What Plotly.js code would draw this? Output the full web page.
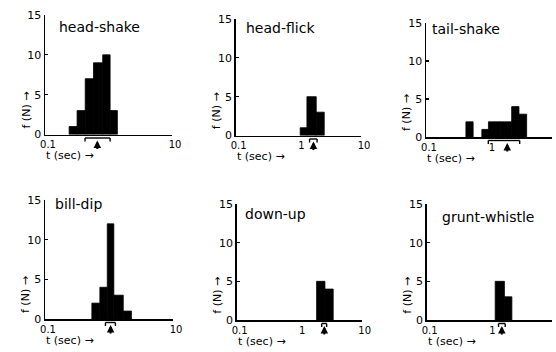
<!DOCTYPE html>
<html><head><meta charset="utf-8">
<script src="https://cdn.plot.ly/plotly-3.0.1.min.js"></script>
<style>html,body{margin:0;padding:0;background:#fff}#chart{width:556px;height:352px}</style>
</head><body><div id="chart"></div>
<script>
// ---- data (bin edges in seconds, counts) ----
const panelNames = ["head-shake", "head-flick", "tail-shake", "bill-dip", "down-up", "grunt-whistle"];

const headShakeLo = [0.24, 0.32, 0.43, 0.58, 0.81, 1.06];
const headShakeHi = [0.32, 0.43, 0.58, 0.81, 1.06, 1.38];
const headShakeN  = [1, 3, 7, 9, 10, 3];

const headFlickLo = [1.07, 1.37, 1.93];
const headFlickHi = [1.37, 1.93, 2.59];
const headFlickN  = [1, 5, 3];

const tailShakeLo = [0.43, 0.77, 0.98, 1.50, 2.29, 2.99];
const tailShakeHi = [0.56, 0.98, 1.50, 2.29, 2.99, 3.96];
const tailShakeN  = [2, 1, 2, 2, 4, 3];

const billDipLo = [0.54, 0.72, 0.94, 1.19, 1.67];
const billDipHi = [0.72, 0.94, 1.19, 1.67, 2.24];
const billDipN  = [2, 4, 12, 3, 1];

const downUpLo = [1.90, 2.58];
const downUpHi = [2.58, 3.50];
const downUpN  = [5, 4];

const gruntWhistleLo = [1.24, 1.74];
const gruntWhistleHi = [1.74, 2.29];
const gruntWhistleN  = [5, 3];

// mean duration (arrow) and spread (bar under axis), seconds
const meanT = [0.667, 1.74, 1.95, 1.06, 2.52, 1.58];
const sdLo  = [0.427, 1.51, 0.975, 0.88, 2.29, 1.40];
const sdHi  = [1.06, 1.99, 3.07, 1.26, 2.75, 1.79];

const xTickVals = [0.1, 1, 10];
const xTickTextNoOne = ["0.1", "", "10"];
const xTickTextFull  = ["0.1", "1", "10"];
const yTickVals = [0, 5, 10, 15];
const xTitleText = "t (sec) →";
const yTitleText = "f (N) →";

// ---- layout geometry (pixels) ----
const W = 556, H = 352;
const geom = [
  {xL: 45,    xR: 172,   y0: 134.5, y15: 15,  tx: 57,  ty: 27},
  {xL: 235.7, xR: 361,   y0: 135.5, y15: 19,  tx: 244, ty: 27.5},
  {xL: 426,   xR: 552,   y0: 137,   y15: 23,  tx: 430, ty: 29},
  {xL: 45,    xR: 173,   y0: 319,   y15: 200, tx: 53,  ty: 204},
  {xL: 236.7, xR: 361.7, y0: 320,   y15: 204, tx: 243, ty: 214},
  {xL: 426.7, xR: 552,   y0: 320,   y15: 204, tx: 440, ty: 217}
];

const panels = [
  [headShakeLo, headShakeHi, headShakeN, xTickTextNoOne],
  [headFlickLo, headFlickHi, headFlickN, xTickTextFull],
  [tailShakeLo, tailShakeHi, tailShakeN, xTickTextFull],
  [billDipLo, billDipHi, billDipN, xTickTextNoOne],
  [downUpLo, downUpHi, downUpN, xTickTextFull],
  [gruntWhistleLo, gruntWhistleHi, gruntWhistleN, xTickTextFull]
];

const FONT = "DejaVu Sans, sans-serif";
const traces = [];
const layout = {
  width: W, height: H,
  margin: {l: 0, r: 0, t: 0, b: 0},
  paper_bgcolor: "#fff", plot_bgcolor: "rgba(0,0,0,0)",
  showlegend: false,
  font: {family: FONT, color: "#000"},
  annotations: [], shapes: []
};
const py = v => (H - v) / H;
const px = v => v / W;

panels.forEach((p, i) => {
  const [lo, hi, n, ticktext] = p;
  const g = geom[i];
  const s = i === 0 ? "" : String(i + 1);
  traces.push({
    type: "bar",
    x: lo.map((l, j) => (l + hi[j]) / 2),
    width: lo.map((l, j) => hi[j] - l),
    y: n,
    xaxis: "x" + s, yaxis: "y" + s,
    marker: {color: "#000", line: {width: 0.8, color: "#000"}},
    hoverinfo: "skip"
  });
  layout["xaxis" + s] = {
    type: "log", range: [-1, 1],
    domain: [px(g.xL), px(g.xR)], anchor: "y" + s,
    showline: true, linecolor: "#000", linewidth: 1.5,
    showgrid: false, zeroline: false,
    tickmode: "array", tickvals: xTickVals, ticktext: ticktext,
    ticks: "", tickfont: {family: FONT, size: 10, color: "#000"},
    ticklabelshift: 3, fixedrange: true
  };
  layout["yaxis" + s] = {
    range: [0, 15],
    domain: [py(g.y0), py(g.y15)], anchor: "x" + s,
    showline: true, linecolor: "#000", linewidth: 1.5,
    showgrid: false, zeroline: false,
    tickmode: "array", tickvals: yTickVals,
    ticks: "inside", ticklen: 3, tickwidth: 1.2, tickcolor: "#000",
    tickfont: {family: FONT, size: 11, color: "#000"},
    fixedrange: true
  };
  // panel title
  layout.annotations.push({
    text: panelNames[i], xref: "paper", yref: "paper",
    x: px(g.tx), y: py(g.ty), xanchor: "left", yanchor: "middle",
    showarrow: false, font: {family: FONT, size: 14, color: "#000"}
  });
  // x title
  layout.annotations.push({
    text: xTitleText, xref: "paper", yref: "paper",
    x: px(g.xL - 1), y: py(g.y0 + 21), xanchor: "left", yanchor: "middle",
    showarrow: false, font: {family: FONT, size: 11, color: "#000"}
  });
  // y title (rotated)
  layout.annotations.push({
    text: yTitleText, xref: "paper", yref: "paper",
    x: px(g.xL - 11), y: py(g.y0 - 4), xanchor: "right", yanchor: "bottom",
    textangle: -90, showarrow: false, font: {family: FONT, size: 11, color: "#000"}
  });
  // mean arrow
  layout.annotations.push({
    text: "", xref: "x" + s, yref: "paper",
    x: Math.log10(meanT[i]), y: py(g.y0 + 6),
    ax: 0, ay: 10, showarrow: true,
    arrowhead: 2, arrowsize: 0.75, arrowwidth: 2, arrowcolor: "#000"
  });
  // spread bar with end ticks
  const yb = py(g.y0 + 3.5), yt = py(g.y0 + 7);
  const ln = {color: "#000", width: 1.4};
  layout.shapes.push({type: "line", xref: "x" + s, yref: "paper", x0: sdLo[i], x1: sdHi[i], y0: yb, y1: yb, line: ln});
  layout.shapes.push({type: "line", xref: "x" + s, yref: "paper", x0: sdLo[i], x1: sdLo[i], y0: yb, y1: yt, line: ln});
  layout.shapes.push({type: "line", xref: "x" + s, yref: "paper", x0: sdHi[i], x1: sdHi[i], y0: yb, y1: yt, line: ln});
});

Plotly.newPlot("chart", traces, layout, {staticPlot: true, displayModeBar: false});
</script>
</body></html>
